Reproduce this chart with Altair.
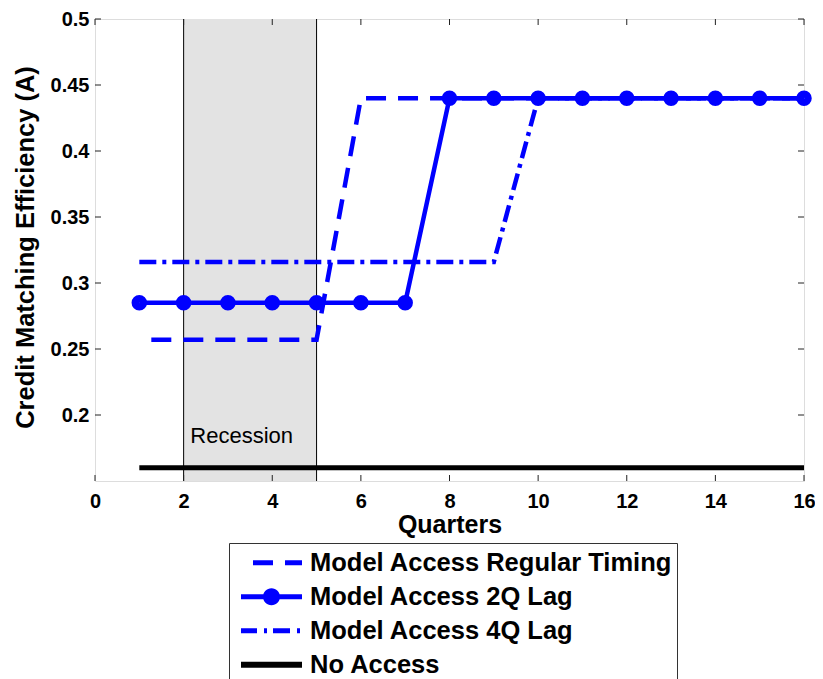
import altair as alt
import pandas as pd

# ---------------- data ----------------
quarters = [1, 2, 3, 4, 5, 6, 7, 8, 9, 10, 11, 12, 13, 14, 15, 16]
regular_timing = [0.257, 0.257, 0.257, 0.257, 0.257, 0.44, 0.44, 0.44,
                  0.44, 0.44, 0.44, 0.44, 0.44, 0.44, 0.44, 0.44]
lag_2q = [0.285, 0.285, 0.285, 0.285, 0.285, 0.285, 0.285, 0.44,
          0.44, 0.44, 0.44, 0.44, 0.44, 0.44, 0.44, 0.44]
lag_4q = [0.316, 0.316, 0.316, 0.316, 0.316, 0.316, 0.316, 0.316,
          0.316, 0.44, 0.44, 0.44, 0.44, 0.44, 0.44, 0.44]
no_access = [0.16, 0.16, 0.16, 0.16, 0.16, 0.16, 0.16, 0.16,
             0.16, 0.16, 0.16, 0.16, 0.16, 0.16, 0.16, 0.16]

series_names = ["Model Access Regular Timing", "Model Access 2Q Lag",
                "Model Access 4Q Lag", "No Access"]
series_colors = ["#0000ff", "#0000ff", "#0000ff", "#000000"]

recession_bounds = [2, 5]
recession_label = ["Recession"]
recession_label_x = [2.15]
recession_label_y = [0.179]

x_ticks = [0, 2, 4, 6, 8, 10, 12, 14, 16]
y_ticks = [0.2, 0.25, 0.3, 0.35, 0.4, 0.45, 0.5]

# legend symbols (unit box -1..1)
legend_paths = [
    "M-0.607,-0.082L0.049,-0.082L0.049,0.082L-0.607,0.082Z"
    "M0.443,-0.082L1,-0.082L1,0.082L0.443,0.082Z",
    "M-1,-0.082L1,-0.082L1,0.082L-1,0.082Z"
    "M-0.28,0A0.28,0.28 0 1,1 0.28,0A0.28,0.28 0 1,1 -0.28,0Z",
    "M-1,-0.082L-0.475,-0.082L-0.475,0.082L-1,0.082Z"
    "M-0.246,-0.082L-0.148,-0.082L-0.148,0.082L-0.246,0.082Z"
    "M0.049,-0.082L0.607,-0.082L0.607,0.082L0.049,0.082Z"
    "M0.836,-0.082L0.934,-0.082L0.934,0.082L0.836,0.082Z",
    "M-1,-0.095L1,-0.095L1,0.095L-1,0.095Z",
]

FONT = "Liberation Sans, Arial, Helvetica, sans-serif"
W, H = 709, 462

# ---------------- tables ----------------
series_df = pd.DataFrame({
    "q": quarters * 4,
    "v": regular_timing + lag_2q + lag_4q + no_access,
    "series": [series_names[0]] * 16 + [series_names[1]] * 16
              + [series_names[2]] * 16 + [series_names[3]] * 16,
})
rec_df = pd.DataFrame({"start": [recession_bounds[0]], "end": [recession_bounds[1]]})
rec_lines_df = pd.DataFrame({"b": recession_bounds})
label_df = pd.DataFrame({"x": recession_label_x, "y": recession_label_y, "t": recession_label})
xt_df = pd.DataFrame({"t": x_ticks})
yt_df = pd.DataFrame({"t": y_ticks})
names_df = pd.DataFrame({"series": series_names})

xscale = alt.Scale(domain=[0, 16], nice=False, zero=False)
yscale = alt.Scale(domain=[0.15, 0.5], nice=False, zero=False)

xaxis = alt.Axis(
    title="Quarters", values=x_ticks, format="d", grid=False, domain=False,
    ticks=False, tickSize=0, labelPadding=26, labelBaseline="alphabetic",
    labelFont=FONT, labelFontSize=20, labelFontWeight="bold", labelColor="black",
    labelFlush=False, labelOverlap=False,
    titleFont=FONT, titleFontSize=25, titleFontWeight="bold", titleColor="black",
    titleBaseline="alphabetic", titleY=51,
)
yaxis = alt.Axis(
    title="Credit Matching Efficiency (A)", values=y_ticks, format="~g", grid=False,
    domain=False, ticks=False, tickSize=0, labelPadding=6, labelBaseline="middle",
    labelFont=FONT, labelFontSize=20, labelFontWeight="bold", labelColor="black",
    labelFlush=False, labelOverlap=False,
    titleFont=FONT, titleFontSize=25.5, titleFontWeight="bold", titleColor="black",
    titleBaseline="alphabetic", titleAngle=270, titleAlign="center",
    titleX=-62, titleY=228,
)


def X(field):
    return alt.X(field, type="quantitative", scale=xscale, axis=xaxis)


def Y(field):
    return alt.Y(field, type="quantitative", scale=yscale, axis=yaxis)


rect = alt.Chart(rec_df).mark_rect(color="#e3e3e3").encode(
    x=X("start"), x2="end", y=alt.value(0), y2=alt.value(H)
)
rec_rules = alt.Chart(rec_lines_df).mark_rule(color="black", strokeWidth=1).encode(
    x=X("b"), y=alt.value(0), y2=alt.value(H)
)
rec_text = alt.Chart(label_df).mark_text(
    align="left", baseline="alphabetic", font=FONT, fontSize=22, color="black"
).encode(x=X("x"), y=Y("y"), text="t:N")


def line_layer(name, **kw):
    return alt.Chart(series_df).transform_filter(
        alt.datum.series == name
    ).mark_line(**kw).encode(x=X("q"), y=Y("v"))


l_reg = line_layer(series_names[0], color="#0000ff", strokeWidth=4.5,
                   strokeDash=[20, 12], strokeDashOffset=20)
l_2q = line_layer(series_names[1], color="#0000ff", strokeWidth=4.5)
p_2q = alt.Chart(series_df).transform_filter(
    alt.datum.series == series_names[1]
).mark_point(shape="circle", filled=False, color="#0000ff", size=66,
             strokeWidth=7.4, opacity=1).encode(x=X("q"), y=Y("v"))
l_4q = line_layer(series_names[2], color="#0000ff", strokeWidth=4.5,
                  strokeDash=[17, 6, 4, 6])
l_none = line_layer(series_names[3], color="black", strokeWidth=5)

tick_color = "#222222"
xt_bottom = alt.Chart(xt_df).mark_rule(color=tick_color, strokeWidth=1).encode(
    x=X("t"), y=alt.value(H), y2=alt.value(H - 6))
xt_top = alt.Chart(xt_df).mark_rule(color=tick_color, strokeWidth=1).encode(
    x=X("t"), y=alt.value(0), y2=alt.value(6))
yt_left = alt.Chart(yt_df).mark_rule(color=tick_color, strokeWidth=1).encode(
    y=Y("t"), x=alt.value(0), x2=alt.value(6))
yt_right = alt.Chart(yt_df).mark_rule(color=tick_color, strokeWidth=1).encode(
    y=Y("t"), x=alt.value(W), x2=alt.value(W - 6))

leg = alt.Legend(
    title=None, orient="none", legendX=134, legendY=524, direction="vertical",
    symbolSize=3721, symbolStrokeWidth=0, symbolOpacity=1, symbolOffset=8,
    labelOffset=8, labelFont=FONT, labelFontSize=25.5, labelFontWeight="bold",
    labelLimit=700, labelColor="black", labelBaseline="middle",
    clipHeight=31.5, rowPadding=2, padding=4,
    strokeColor="#333333", fillColor="white",
)
legend_layer = alt.Chart(names_df).transform_filter("false").mark_point(
    filled=True, opacity=1
).encode(
    fill=alt.Fill("series:N", scale=alt.Scale(domain=series_names, range=series_colors),
                  legend=leg, title=None),
    shape=alt.Shape("series:N", scale=alt.Scale(domain=series_names, range=legend_paths),
                    legend=leg, title=None),
)

chart = alt.layer(
    rect, rec_rules, rec_text, l_reg, l_2q, p_2q, l_4q, l_none,
    xt_bottom, xt_top, yt_left, yt_right, legend_layer,
).properties(
    width=W, height=H,
    autosize=alt.AutoSizeParams(type="none"),
    padding={"left": 87, "top": 11, "right": 11, "bottom": 200},
).configure_view(
    stroke="#222222", strokeWidth=1
).configure(background="white")

chart.save("out.html", embed_options={"renderer": "svg", "actions": False})
